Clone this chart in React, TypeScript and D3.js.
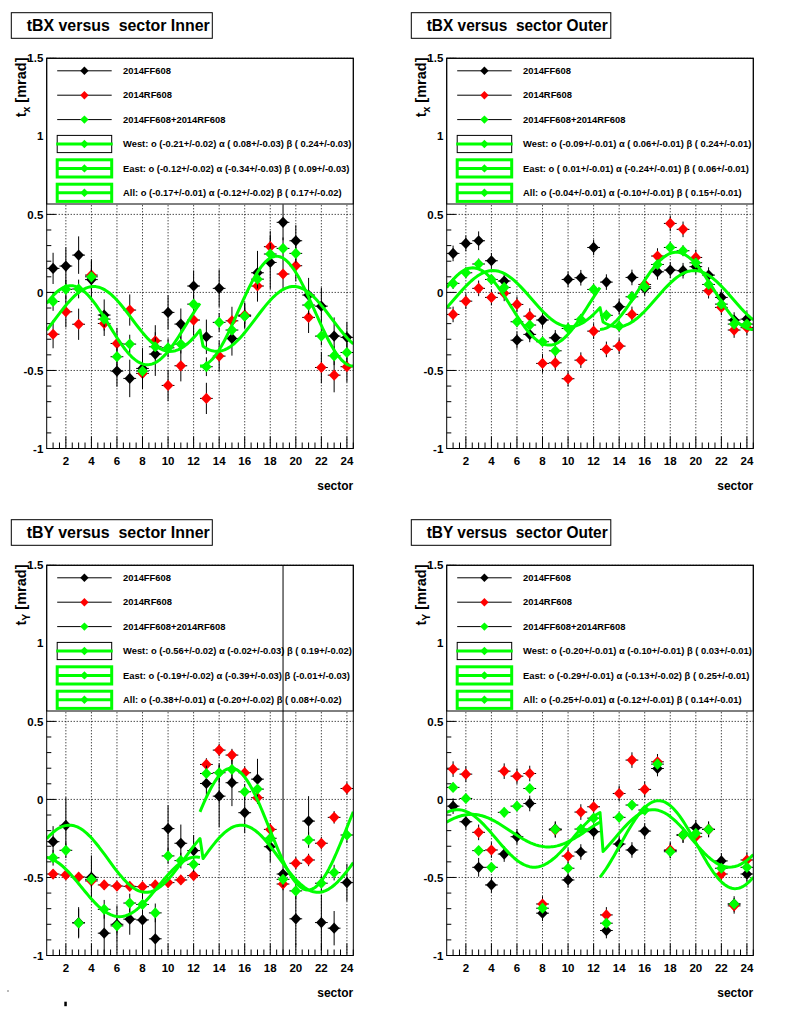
import React from 'react';
import * as d3 from 'd3';

const SECTORS = [1, 2, 3, 4, 5, 6, 7, 8, 9, 10, 11, 12, 13, 14, 15, 16, 17, 18, 19, 20, 21, 22, 23, 24];
const X_TICK_LABELS = [2, 4, 6, 8, 10, 12, 14, 16, 18, 20, 22, 24];
const Y_TICK_LABELS = [1.5, 1, 0.5, 0, -0.5, -1];
const SERIES_NAMES = ['2014FF608', '2014RF608', '2014FF608+2014RF608'];
const FIT_NAMES = ['West', 'East', 'All'];
const TITLES = ['tBX versus  sector Inner', 'tBX versus  sector Outer', 'tBY versus  sector Inner', 'tBY versus  sector Outer'];

// ---- tBX Inner
const TL_FF = [0.154, 0.169, 0.239, 0.082, -0.145, -0.504, -0.551, -0.487, -0.395, -0.128, -0.203, 0.041, -0.284, 0.026, -0.295, -0.15, 0.126, 0.192, 0.449, 0.331, -0.017, -0.088, -0.28, -0.288];
const TL_FF_ERR = [0.10, 0.12, 0.12, 0.13, 0.10, 0.10, 0.12, 0.13, 0.14, 0.11, 0.10, 0.10, 0.11, 0.12, 0.11, 0.08, 0.14, 0.17, 0.115, 0.10, 0.11, 0.12, 0.12, 0.10];
const TL_RF = [-0.268, -0.124, -0.204, 0.111, -0.199, -0.327, -0.113, -0.519, -0.31, -0.596, -0.47, -0.177, -0.679, -0.408, -0.182, -0.145, 0.041, 0.293, 0.118, 0.171, -0.16, -0.481, -0.53, -0.476];
const TL_RF_ERR = [0.09, 0.10, 0.10, 0.09, 0.08, 0.10, 0.10, 0.10, 0.10, 0.10, 0.10, 0.10, 0.10, 0.10, 0.09, 0.08, 0.10, 0.10, 0.10, 0.10, 0.10, 0.10, 0.11, 0.10];
const TL_ALL = [-0.058, 0.02, 0.022, 0.1, -0.171, -0.412, -0.331, -0.504, -0.348, -0.355, -0.331, -0.075, -0.476, -0.192, -0.241, -0.152, 0.085, 0.246, 0.282, 0.25, -0.081, -0.28, -0.406, -0.385];
const TL_ALL_ERR = [0.06, 0.06, 0.06, 0.05, 0.05, 0.06, 0.06, 0.06, 0.06, 0.06, 0.06, 0.06, 0.06, 0.06, 0.05, 0.05, 0.06, 0.07, 0.07, 0.06, 0.06, 0.06, 0.06, 0.06];
const TL_FIT_O = [-0.21, -0.12, -0.17];
const TL_FIT_O_ERR = [0.02, 0.02, 0.01];
const TL_FIT_A = [0.08, -0.34, -0.12];
const TL_FIT_A_ERR = [0.03, 0.03, 0.02];
const TL_FIT_B = [0.24, 0.09, 0.17];
const TL_FIT_B_ERR = [0.03, 0.03, 0.02];

// ---- tBX Outer
const TR_FF = [0.25, 0.314, 0.331, 0.203, 0.073, -0.306, -0.269, -0.177, -0.291, 0.083, 0.094, 0.288, 0.066, -0.092, 0.096, 0.026, 0.132, 0.143, 0.139, 0.165, 0.111, -0.032, -0.177, -0.171];
const TR_FF_ERR = [0.05, 0.05, 0.06, 0.05, 0.05, 0.055, 0.05, 0.05, 0.05, 0.05, 0.05, 0.05, 0.05, 0.05, 0.05, 0.05, 0.05, 0.05, 0.05, 0.05, 0.05, 0.05, 0.05, 0.05];
const TR_RF = [-0.141, -0.056, 0.026, -0.032, -0.006, -0.077, -0.152, -0.455, -0.451, -0.553, -0.434, -0.248, -0.365, -0.344, -0.141, 0.051, 0.233, 0.442, 0.404, 0.224, 0.011, -0.096, -0.241, -0.226];
const TR_RF_ERR = [0.05, 0.05, 0.05, 0.05, 0.05, 0.05, 0.05, 0.06, 0.05, 0.05, 0.05, 0.05, 0.05, 0.05, 0.05, 0.05, 0.05, 0.05, 0.05, 0.05, 0.05, 0.05, 0.05, 0.05];
const TR_ALL = [0.058, 0.126, 0.182, 0.083, 0.032, -0.188, -0.209, -0.316, -0.374, -0.231, -0.173, 0.019, -0.147, -0.216, -0.028, 0.036, 0.179, 0.288, 0.267, 0.19, 0.051, -0.075, -0.203, -0.203];
const TR_ALL_ERR = [0.035, 0.035, 0.035, 0.035, 0.035, 0.035, 0.035, 0.035, 0.035, 0.035, 0.035, 0.035, 0.035, 0.035, 0.035, 0.035, 0.035, 0.035, 0.035, 0.035, 0.035, 0.035, 0.035, 0.035];
const TR_FIT_O = [-0.09, 0.01, -0.04];
const TR_FIT_O_ERR = [0.01, 0.01, 0.01];
const TR_FIT_A = [0.06, -0.24, -0.10];
const TR_FIT_A_ERR = [0.01, 0.01, 0.01];
const TR_FIT_B = [0.24, 0.06, 0.15];
const TR_FIT_B_ERR = [0.01, 0.01, 0.01];

// ---- tBY Inner
const BL_FF = [-0.271, -0.166, -0.79, -0.499, -0.857, -0.80, -0.767, -0.772, -0.893, -0.187, -0.281, -0.328, 0.102, 0.021, 0.107, -0.085, 0.13, -0.303, -0.478, -0.765, -0.139, -0.789, -0.825, -0.533];
const BL_FF_ERR = [0.10, 0.18, 0.10, 0.14, 0.15, 0.12, 0.10, 0.18, 0.17, 0.15, 0.12, 0.10, 0.10, 0.20, 0.15, 0.13, 0.13, 0.10, 3.0, 0.17, 0.16, 0.18, 0.11, 0.12];
const BL_RF = [-0.478, -0.484, -0.497, -0.522, -0.548, -0.555, -0.557, -0.559, -0.548, -0.533, -0.516, -0.488, 0.224, 0.316, 0.284, 0.171, 0.011, -0.192, -0.542, -0.409, -0.388, -0.281, -0.115, 0.07];
const BL_RF_ERR = [0.03, 0.03, 0.03, 0.03, 0.03, 0.03, 0.03, 0.03, 0.03, 0.03, 0.03, 0.03, 0.04, 0.04, 0.04, 0.04, 0.04, 0.04, 0.04, 0.04, 0.04, 0.04, 0.04, 0.04];
const BL_ALL = [-0.374, -0.326, -0.791, -0.512, -0.704, -0.81, -0.664, -0.673, -0.727, -0.362, -0.392, -0.416, 0.166, 0.171, 0.192, 0.049, 0.066, -0.249, -0.512, -0.586, -0.26, -0.537, -0.469, -0.228];
const BL_ALL_ERR = [0.05, 0.05, 0.09, 0.05, 0.06, 0.05, 0.06, 0.06, 0.06, 0.05, 0.05, 0.05, 0.05, 0.06, 0.06, 0.05, 0.05, 0.05, 0.05, 0.05, 0.05, 0.05, 0.05, 0.05];
const BL_FIT_O = [-0.56, -0.19, -0.38];
const BL_FIT_O_ERR = [0.02, 0.02, 0.01];
const BL_FIT_A = [-0.02, -0.39, -0.20];
const BL_FIT_A_ERR = [0.03, 0.03, 0.02];
const BL_FIT_B = [0.19, -0.01, 0.08];
const BL_FIT_B_ERR = [0.02, 0.03, 0.02];

// ---- tBY Outer
const BR_FF = [-0.043, -0.143, -0.435, -0.548, -0.35, -0.239, -0.026, -0.729, -0.19, -0.516, -0.337, -0.207, -0.84, -0.286, -0.324, -0.203, 0.198, -0.328, -0.228, -0.181, -0.192, -0.394, -0.67, -0.478];
const BR_FF_ERR = [0.05, 0.05, 0.06, 0.05, 0.05, 0.05, 0.05, 0.05, 0.05, 0.05, 0.05, 0.05, 0.05, 0.05, 0.05, 0.05, 0.05, 0.05, 0.05, 0.05, 0.05, 0.05, 0.05, 0.05];
const BR_RF = [0.194, 0.162, -0.211, -0.324, 0.181, 0.149, 0.166, -0.67, -0.196, -0.363, -0.081, -0.047, -0.74, 0.038, 0.252, 0.064, 0.241, -0.324, -0.228, -0.239, -0.192, -0.478, -0.682, -0.388];
const BR_RF_ERR = [0.05, 0.05, 0.05, 0.05, 0.05, 0.05, 0.05, 0.05, 0.05, 0.05, 0.05, 0.05, 0.05, 0.05, 0.05, 0.05, 0.05, 0.05, 0.05, 0.05, 0.05, 0.05, 0.05, 0.05];
const BR_ALL = [0.077, 0.006, -0.328, -0.435, -0.083, -0.043, 0.07, -0.697, -0.192, -0.441, -0.19, -0.12, -0.793, -0.115, -0.036, -0.068, 0.226, -0.335, -0.228, -0.217, -0.192, -0.441, -0.67, -0.435];
const BR_ALL_ERR = [0.03, 0.03, 0.03, 0.03, 0.03, 0.03, 0.03, 0.03, 0.03, 0.03, 0.03, 0.03, 0.03, 0.03, 0.03, 0.03, 0.03, 0.03, 0.03, 0.03, 0.03, 0.03, 0.03, 0.03];
const BR_FIT_O = [-0.20, -0.29, -0.25];
const BR_FIT_O_ERR = [0.01, 0.01, 0.01];
const BR_FIT_A = [-0.10, -0.13, -0.12];
const BR_FIT_A_ERR = [0.01, 0.02, 0.01];
const BR_FIT_B = [0.03, 0.25, 0.14];
const BR_FIT_B_ERR = [0.01, 0.01, 0.01];

type Fit = { o: number[]; oe: number[]; a: number[]; ae: number[]; b: number[]; be: number[] };
type Panel = { title: string; comp: 'x' | 'Y'; series: { v: number[]; e: number[] }[]; fit: Fit };

const PANELS: Panel[] = [
  { title: TITLES[0], comp: 'x', series: [{ v: TL_FF, e: TL_FF_ERR }, { v: TL_RF, e: TL_RF_ERR }, { v: TL_ALL, e: TL_ALL_ERR }], fit: { o: TL_FIT_O, oe: TL_FIT_O_ERR, a: TL_FIT_A, ae: TL_FIT_A_ERR, b: TL_FIT_B, be: TL_FIT_B_ERR } },
  { title: TITLES[1], comp: 'x', series: [{ v: TR_FF, e: TR_FF_ERR }, { v: TR_RF, e: TR_RF_ERR }, { v: TR_ALL, e: TR_ALL_ERR }], fit: { o: TR_FIT_O, oe: TR_FIT_O_ERR, a: TR_FIT_A, ae: TR_FIT_A_ERR, b: TR_FIT_B, be: TR_FIT_B_ERR } },
  { title: TITLES[2], comp: 'Y', series: [{ v: BL_FF, e: BL_FF_ERR }, { v: BL_RF, e: BL_RF_ERR }, { v: BL_ALL, e: BL_ALL_ERR }], fit: { o: BL_FIT_O, oe: BL_FIT_O_ERR, a: BL_FIT_A, ae: BL_FIT_A_ERR, b: BL_FIT_B, be: BL_FIT_B_ERR } },
  { title: TITLES[3], comp: 'Y', series: [{ v: BR_FF, e: BR_FF_ERR }, { v: BR_RF, e: BR_RF_ERR }, { v: BR_ALL, e: BR_ALL_ERR }], fit: { o: BR_FIT_O, oe: BR_FIT_O_ERR, a: BR_FIT_A, ae: BR_FIT_A_ERR, b: BR_FIT_B, be: BR_FIT_B_ERR } },
];

const COLORS = ['#000000', '#ff0000', '#00ff00'];
const GREEN = '#00ff00';
const FONT = '"Liberation Sans", Arial, Helvetica, sans-serif';
const DEG = Math.PI / 180;

// fit model drawn by ROOT from the legend's parameters (o, alpha, beta)
function fitModel(comp: string, o: number, a: number, b: number, s: number, west: boolean) {
  if (comp === 'x') {
    const phi = (west ? (15 - s) * 30 : (s - 21) * 30) * DEG;
    return o + a * Math.sin(phi) + b * Math.cos(phi);
  }
  const phi = (west ? (15 - s) * 30 : (s - 15) * 30) * DEG;
  return o - a * Math.cos(phi) + b * Math.sin(phi);
}

const fmt = (v: number) => (v < 0 ? '' : ' ') + v.toFixed(2);

function PanelView({ p, idx }: { p: Panel; idx: number }) {
  const padX = (idx % 2) * 400;
  const padY = Math.floor(idx / 2) * 507;
  const fl = padX + 46.7;
  const fr = padX + 353.3;
  const ft = padY + 58.3;
  const fb = padY + 448.5;
  const x = d3.scaleLinear().domain([0.5, 24.5]).range([fl, fr]);
  const y = d3.scaleLinear().domain([-1, 1.5]).range([fb, ft]);
  const clipId = `clip${idx}`;
  const line = d3.line<[number, number]>().x((d) => x(d[0])).y((d) => y(d[1]));

  const curves: [number, number][][] = [];
  const { o, a, b } = p.fit;
  curves.push(d3.range(0, 101).map((k) => { const s = 0.5 + k * 0.12; return [s, fitModel(p.comp, o[0], a[0], b[0], s, true)] as [number, number]; }));
  curves.push(d3.range(0, 101).map((k) => { const s = 12.5 + k * 0.12; return [s, fitModel(p.comp, o[1], a[1], b[1], s, false)] as [number, number]; }));
  curves.push(d3.range(0, 101).map((k) => { const s = 0.5 + k * 0.24; return [s, fitModel(p.comp, o[2], a[2], b[2], s, s <= 12.5)] as [number, number]; }));

  const yMinor = d3.range(-10, 16).map((i) => i / 10);
  const xMinor = d3.range(1, 49).map((i) => 0.5 + i * 0.5);

  const legH = 145.7;
  const rowY = (i: number) => ft + 12.5 + i * 24.4;
  const lx0 = fl + 10.5;
  const lx1 = fl + 65;
  const lxm = fl + 37.7;
  const ltx = fl + 76.3;
  const legDiamond = (cx: number, cy: number, color: string) => (
    <path d={`M${cx},${cy - 4.2}L${cx + 4.2},${cy}L${cx},${cy + 4.2}L${cx - 4.2},${cy}Z`} fill={color} />
  );
  const outer = idx % 2 === 1;

  return (
    <g>
      <defs>
        <clipPath id={clipId}>
          <rect x={fl} y={ft} width={fr - fl} height={fb - ft} />
        </clipPath>
      </defs>
      {/* title box */}
      <rect x={padX + 11.3} y={padY + 12.7} width={outer ? 199.5 : 201} height={25.6} fill="#fff" stroke="#000" strokeWidth={1} />
      <text x={padX + 26.7} y={padY + 31} fontFamily={FONT} fontWeight="bold" fontSize={16} textLength={outer ? 181 : 183} lengthAdjust="spacingAndGlyphs" style={{ whiteSpace: 'pre' }}>{p.title}</text>

      {/* frame bg */}
      <rect x={fl} y={ft} width={fr - fl} height={fb - ft} fill="#fff" />
      {/* grid */}
      <g stroke="#000" strokeWidth={1} strokeDasharray="1,2">
        {X_TICK_LABELS.map((t) => <line key={'gx' + t} x1={x(t)} x2={x(t)} y1={ft} y2={fb} />)}
        {[1.5, 1, 0.5, 0, -0.5].map((t) => <line key={'gy' + t} x1={fl} x2={fr} y1={y(t)} y2={y(t)} />)}
      </g>
      {/* ticks */}
      <g stroke="#000" strokeWidth={1}>
        {yMinor.map((t) => {
          const major = Math.abs(t * 2 - Math.round(t * 2)) < 1e-6;
          return <line key={'ty' + t} x1={fl} x2={fl + (major ? 9.2 : 4.6)} y1={y(t)} y2={y(t)} />;
        })}
        {xMinor.map((t) => {
          const major = Math.abs(t % 2) < 1e-6;
          return <line key={'tx' + t} x1={x(t)} x2={x(t)} y1={fb} y2={fb - (major ? 12 : 6)} />;
        })}
      </g>

      {/* legend */}
      <rect x={fl} y={ft} width={fr - fl} height={legH} fill="#fff" stroke="#000" strokeWidth={1} />
      {SERIES_NAMES.map((n, i) => (
        <g key={'ls' + i}>
          <line x1={lx0} x2={lx1} y1={rowY(i)} y2={rowY(i)} stroke="#000" strokeWidth={1} />
          {legDiamond(lxm, rowY(i), COLORS[i])}
          <text x={ltx} y={rowY(i)} dy="0.35em" fontFamily={FONT} fontWeight="bold" fontSize={9.4}>{n}</text>
        </g>
      ))}
      {FIT_NAMES.map((n, j) => {
        const i = j + 3;
        const cy = rowY(i);
        const txt = `${n}: o (${fmt(p.fit.o[j])}+/-${p.fit.oe[j].toFixed(2)}) \u03b1 (${fmt(p.fit.a[j])}+/-${p.fit.ae[j].toFixed(2)}) \u03b2 (${fmt(p.fit.b[j])}+/-${p.fit.be[j].toFixed(2)})`;
        return (
          <g key={'lf' + j}>
            {j === 0 ? (
              <rect x={lx0} y={cy - 8.6} width={lx1 - lx0} height={17.2} fill="none" stroke="#000" strokeWidth={1} />
            ) : (
              <rect x={lx0} y={cy - 8.6} width={lx1 - lx0} height={17.2} fill="none" stroke={GREEN} strokeWidth={3} />
            )}
            <line x1={lx0 - (j === 0 ? 1 : 0)} x2={lx1 + (j === 0 ? 1 : 0)} y1={cy} y2={cy} stroke={GREEN} strokeWidth={3} />
            {legDiamond(lxm, cy, GREEN)}
            <text x={ltx} y={cy} dy="0.35em" fontFamily={FONT} fontWeight="bold" fontSize={9.4} style={{ whiteSpace: 'pre' }}>{txt}</text>
          </g>
        );
      })}

      {/* data */}
      <g clipPath={`url(#${clipId})`}>
        {p.series.map((ser, si) => (
          <g key={'s' + si}>
            {SECTORS.map((s, k) => (
              <g key={k} stroke="#000" strokeWidth={1}>
                <line x1={x(s)} x2={x(s)} y1={y(ser.v[k] - ser.e[k])} y2={y(ser.v[k] + ser.e[k])} />
                <line x1={x(s - 0.5)} x2={x(s + 0.5)} y1={y(ser.v[k])} y2={y(ser.v[k])} />
              </g>
            ))}
            {SECTORS.map((s, k) => {
              const cx = x(s), cy = y(ser.v[k]);
              return <path key={'m' + k} d={`M${cx},${cy - 5.6}L${cx + 5.3},${cy}L${cx},${cy + 5.6}L${cx - 5.3},${cy}Z`} fill={COLORS[si]} />;
            })}
          </g>
        ))}
        {curves.map((c, ci) => (
          <path key={'c' + ci} d={line(c) || ''} fill="none" stroke={GREEN} strokeWidth={3} strokeLinejoin="round" />
        ))}
      </g>

      {/* frame */}
      <rect x={fl} y={ft} width={fr - fl} height={fb - ft} fill="none" stroke="#000" strokeWidth={1} />

      {/* axis labels */}
      {Y_TICK_LABELS.map((t) => (
        <text key={'yl' + t} x={fl - 3.4} y={y(t)} dy="0.36em" textAnchor="end" fontFamily={FONT} fontWeight="bold" fontSize={11.5}>{String(t)}</text>
      ))}
      {X_TICK_LABELS.map((t) => (
        <text key={'xl' + t} x={x(t)} y={padY + 465} textAnchor="middle" fontFamily={FONT} fontWeight="bold" fontSize={11.5}>{String(t)}</text>
      ))}
      <text x={fr} y={padY + 490} textAnchor="end" fontFamily={FONT} fontWeight="bold" fontSize={12}>sector</text>
      <text transform={`translate(${padX + 26},${padY + 57.5}) rotate(-90)`} textAnchor="end" fontFamily={FONT} fontWeight="bold" fontSize={14.5}>
        t<tspan dy={4} fontSize={10.5}>{p.comp}</tspan><tspan dy={-4}>{' [mrad]'}</tspan>
      </text>
    </g>
  );
}

export default function App() {
  return (
    <div style={{ position: 'absolute', left: 0, top: 0, width: 800, height: 1014, background: '#fff' }}>
      <svg width={800} height={1014} viewBox="0 0 800 1014" style={{ display: 'block' }}>
        <rect x={0} y={0} width={800} height={1014} fill="#fff" />
        {PANELS.map((p, i) => <PanelView key={i} p={p} idx={i} />)}
        <rect x={64.3} y={1001.7} width={2.5} height={4.5} fill="#000" />
        <rect x={7.5} y={990} width={1} height={2} fill="#777" />
      </svg>
    </div>
  );
}
